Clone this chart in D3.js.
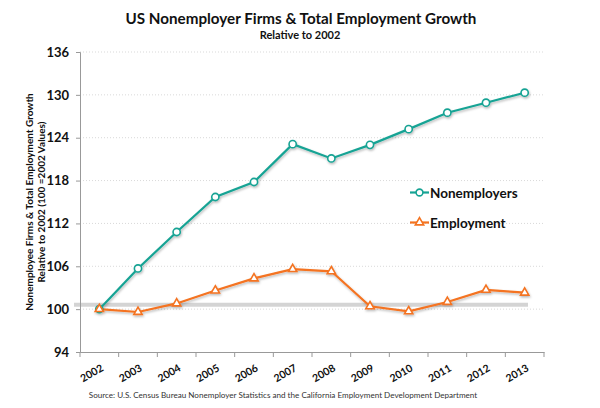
<!DOCTYPE html>
<html>
<head>
<meta charset="utf-8">
<script src="https://cdn.jsdelivr.net/npm/d3@7"></script>
<style>
  body { margin: 0; background: #fff; }
  svg { display: block; font-family: Lato, "Open Sans", sans-serif; }
</style>
</head>
<body>
<svg id="chart" width="600" height="408"></svg>
<script>
const years = ["2002","2003","2004","2005","2006","2007","2008","2009","2010","2011","2012","2013"];
const nonemployers = [100, 105.7, 110.8, 115.7, 117.8, 123.1, 121.1, 123.0, 125.2, 127.5, 128.9, 130.3];
const employment = [100, 99.6, 100.8, 102.6, 104.3, 105.6, 105.3, 100.4, 99.7, 101.0, 102.7, 102.3];
const yTicks = [94, 100, 106, 112, 118, 124, 130, 136];
const baselineValue = 100.6;

const svg = d3.select("#chart");
const m = { left: 80, right: 544, top: 52, bottom: 352 };

const x = d3.scaleBand().domain(years).range([m.left, m.right]);
const y = d3.scaleLinear().domain([94, 136]).range([m.bottom, m.top]);
const cx = d => x(d) + x.bandwidth() / 2;

const teal = "#17A394";
const orange = "#F47320";

const defs = svg.append("defs");
const f = defs.append("filter").attr("id", "shadow").attr("x", "-20%").attr("y", "-20%")
  .attr("width", "140%").attr("height", "140%");
f.append("feDropShadow").attr("dx", 0.8).attr("dy", 1.5).attr("stdDeviation", 0.9)
  .attr("flood-color", "#000").attr("flood-opacity", 0.28);

// Title
svg.append("text").attr("x", 301).attr("y", 24).attr("text-anchor", "middle")
  .attr("font-size", 15.2).attr("font-weight", "bold").attr("fill", "#111")
  .text("US Nonemployer Firms & Total Employment Growth");
svg.append("text").attr("x", 300).attr("y", 39).attr("text-anchor", "middle")
  .attr("font-size", 11).attr("font-weight", "bold").attr("fill", "#111")
  .text("Relative to 2002");

// Gridlines
svg.append("g").selectAll("line").data(yTicks.slice(1)).join("line")
  .attr("x1", m.left).attr("x2", m.right)
  .attr("y1", d => y(d)).attr("y2", d => y(d))
  .attr("stroke", "#d9d9d9").attr("stroke-width", 1).attr("stroke-dasharray", "1,2");

// Grey baseline band
svg.append("line")
  .attr("x1", 74).attr("x2", 528)
  .attr("y1", y(baselineValue)).attr("y2", y(baselineValue))
  .attr("stroke", "#d4d4d4").attr("stroke-width", 4);

// Y axis
const yAxis = svg.append("g").attr("transform", `translate(${m.left},0)`)
  .call(d3.axisLeft(y).tickValues(yTicks).tickSize(4).tickPadding(7));
yAxis.select(".domain").attr("stroke", "#999");
yAxis.selectAll(".tick line").attr("stroke", "#999");
yAxis.selectAll(".tick text").attr("font-size", 13).attr("font-weight", "bold")
  .attr("fill", "#111").attr("font-family", "Lato, sans-serif");

// X axis
const xAxis = svg.append("g").attr("transform", `translate(0,${m.bottom})`)
  .call(d3.axisBottom(x).tickSize(0).tickPadding(0));
xAxis.select(".domain").attr("stroke", "#999");
xAxis.selectAll(".tick text")
  .attr("font-size", 10.5).attr("font-weight", "bold").attr("fill", "#111")
  .attr("font-family", "Lato, sans-serif")
  .attr("text-anchor", "end")
  .attr("y", 0).attr("dy", "0.35em")
  .attr("transform", "translate(3,15) rotate(-30)");
// boundary ticks
svg.append("g").selectAll("line").data(d3.range(years.length + 1)).join("line")
  .attr("x1", i => m.left + i * x.step()).attr("x2", i => m.left + i * x.step())
  .attr("y1", m.bottom).attr("y2", m.bottom + 5)
  .attr("stroke", "#999");

// Y axis label
const yl = svg.append("text").attr("transform", "translate(33,202) rotate(-90)")
  .attr("text-anchor", "middle").attr("font-size", 10).attr("font-weight", "bold").attr("fill", "#111");
yl.append("tspan").attr("x", 0).attr("dy", 0).text("Nonemployee Firms & Total Employment Growth");
yl.append("tspan").attr("x", 0).attr("dy", 12).text("Relative to 2002 (100 =2002 Values)");

// Lines
const line = d3.line().x((d, i) => cx(years[i])).y(d => y(d));
const gLines = svg.append("g").attr("filter", "url(#shadow)");
gLines.append("path").datum(nonemployers).attr("d", line)
  .attr("fill", "none").attr("stroke", teal).attr("stroke-width", 2.2);
gLines.append("path").datum(employment).attr("d", line)
  .attr("fill", "none").attr("stroke", orange).attr("stroke-width", 2.2);

// Markers
gLines.append("g").selectAll("circle").data(nonemployers).join("circle")
  .attr("cx", (d, i) => cx(years[i])).attr("cy", d => y(d)).attr("r", 3.6)
  .attr("fill", "#fff").attr("stroke", teal).attr("stroke-width", 1.6);
const tri = d3.symbol().type(d3.symbolTriangle).size(30);
gLines.append("g").selectAll("path").data(employment).join("path")
  .attr("d", tri)
  .attr("transform", (d, i) => `translate(${cx(years[i])},${y(d)})`)
  .attr("fill", "#fff").attr("stroke", orange).attr("stroke-width", 1.6);

// Legend
const legend = [
  { name: "Nonemployers", color: teal, sym: "circle", y: 192.5 },
  { name: "Employment", color: orange, sym: "tri", y: 222.5 }
];
legend.forEach(l => {
  svg.append("line").attr("x1", 410).attr("x2", 429).attr("y1", l.y).attr("y2", l.y)
    .attr("stroke", l.color).attr("stroke-width", 2.2);
  if (l.sym === "circle") {
    svg.append("circle").attr("cx", 419.5).attr("cy", l.y).attr("r", 3.4)
      .attr("fill", "#fff").attr("stroke", l.color).attr("stroke-width", 1.6);
  } else {
    svg.append("path").attr("d", tri).attr("transform", `translate(419.5,${l.y})`)
      .attr("fill", "#fff").attr("stroke", l.color).attr("stroke-width", 1.6);
  }
  svg.append("text").attr("x", 430).attr("y", l.y + 5).attr("font-size", 13.5)
    .attr("font-weight", "bold").attr("fill", "#111").text(l.name);
});

// Source
svg.append("text").attr("x", 283).attr("y", 398).attr("text-anchor", "middle")
  .attr("font-size", 8.1).attr("fill", "#333")
  .text("Source: U.S. Census Bureau Nonemployer Statistics and the California Employment Development Department");
</script>
</body>
</html>
